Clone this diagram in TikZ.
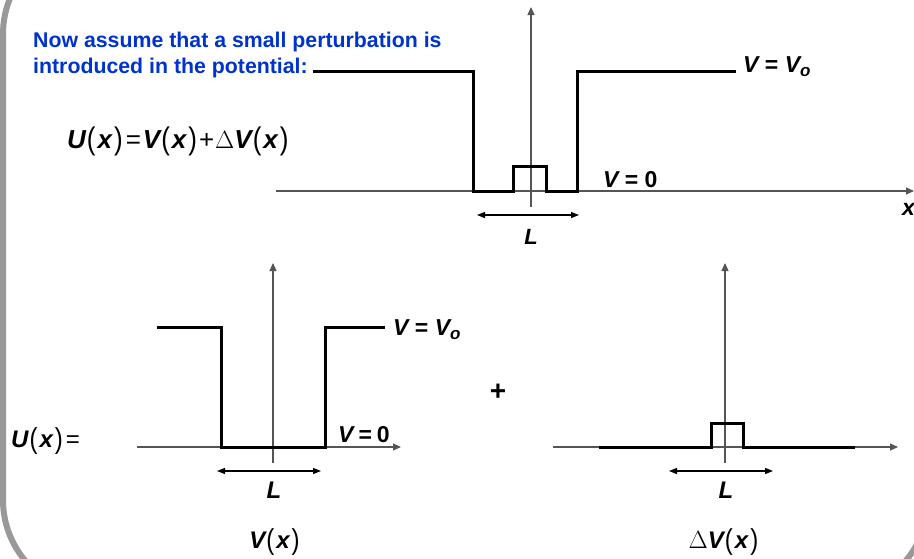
\documentclass[tikz,border=0pt]{standalone}
\usepackage{fontspec}
\usepackage{graphicx}
\setmainfont{Liberation Sans}
\usepackage{tikz}
\usetikzlibrary{arrows.meta, positioning}
\definecolor{titleblue}{HTML}{0033CC}
\definecolor{framegray}{HTML}{999999}
\definecolor{axisgray}{HTML}{555555}
\newcommand\vb[1]{{\bfseries\itshape #1}}
\newcommand\pa[1]{\kern1pt\raisebox{-0.12ex}{\scalebox{1}[1.2]{\mdseries\upshape(}}\kern2pt#1\kern2pt\raisebox{-0.12ex}{\scalebox{1}[1.2]{\mdseries\upshape)}}\kern1pt}
\newcommand\eqs{\kern2pt{\mdseries=}\kern2pt}
\newcommand\sub[1]{\raisebox{-0.35ex}{\fontsize{17}{17}\selectfont\bfseries\itshape #1}}

\begin{document}
\begin{tikzpicture}[
  x=1pt, y=-1pt,
  frame/.style={draw=framegray, line width=6pt, rounded corners=94pt},
  axis/.style={-{Triangle[length=8pt,width=7pt]}, draw=axisgray, line width=1.1pt},
  pot/.style={line width=3pt, line join=miter},
  span/.style={{Triangle[length=8pt,width=6pt]}-{Triangle[length=8pt,width=6pt]}, line width=1.2pt},
  lbl/.style={inner sep=0pt, font=\fontsize{23}{26}\selectfont\bfseries},
  big/.style={inner sep=0pt, font=\fontsize{24}{28}\selectfont\bfseries}
]
  \useasboundingbox (0,0) rectangle (914,558);
  \begin{scope}
    \clip (0,0) rectangle (914,558);
    \draw[frame] (3,-60) rectangle (928,594);
  \end{scope}

  % text
  \node[anchor=base west, inner sep=0pt, align=left, text=titleblue,
        font=\fontsize{21.3}{26}\selectfont\bfseries] (intro) at (33,73)
        {Now assume that a small perturbation is\\introduced in the potential:};
  \node[big, anchor=base west, font=\fontsize{26}{30}\selectfont\bfseries] (ueq) at (67,148)
        {\vb{U}\pa{\vb{x}}\eqs\vb{V}\pa{\vb{x}}\kern1pt{\mdseries+}\kern1pt{\upshape$\Delta$}\vb{V}\pa{\vb{x}}};

  % top plot
  \coordinate (t-l) at (276,191);
  \coordinate (t-r) at (914,191);
  \coordinate (t-b) at (531,207);
  \coordinate (t-t) at (531,7);
  \draw[axis] (t-l) -- (t-r);
  \draw[axis] (t-b) -- (t-t);
  \draw[pot] (313,71) -- (473,71) -- (473,191) -- (513,191) -- (513,166) -- (546,166)
    -- (546,191) -- (577,191) -- (577,71) -- (736,71);
  \node[lbl, anchor=base west] (t-vo) at (743,72) {\vb{V} = \vb{V}\sub{o}};
  \node[lbl, anchor=base west] (t-v0) at (603,187) {\vb{V} = 0};
  \node[lbl, anchor=base west] (t-x) at (902,215) {\vb{x}};
  \coordinate (t-sl) at (477,215);
  \coordinate (t-sr) at (579,215);
  \draw[span] (t-sl) -- (t-sr);
  \node[lbl, anchor=base, font=\fontsize{22}{24}\selectfont\bfseries\itshape] (t-L) at (531,244) {L};

  % bottom left plot
  \node[big, anchor=base west] (ux) at (11,447) {\vb{U}\pa{\vb{x}}\eqs};
  \coordinate (a-l) at (137,447);
  \coordinate (a-r) at (401,447);
  \coordinate (a-b) at (273,463);
  \coordinate (a-t) at (273,263);
  \draw[axis] (a-l) -- (a-r);
  \draw[axis] (a-b) -- (a-t);
  \draw[pot] (157,327) -- (221,327) -- (221,447) -- (325,447) -- (325,327) -- (385,327);
  \node[lbl, anchor=base west] (a-vo) at (393,335) {\vb{V} = \vb{V}\sub{o}};
  \node[lbl, anchor=base west] (a-v0) at (338,442) {\vb{V}\kern5pt=\kern5pt0};
  \coordinate (a-sl) at (217,471);
  \coordinate (a-sr) at (321,471);
  \draw[span] (a-sl) -- (a-sr);
  \node[big, anchor=base, font=\fontsize{24}{28}\selectfont\bfseries\itshape] (a-L) at (274,498) {L};
  \node[big, anchor=base] (a-name) at (275,548) {\vb{V}\pa{\vb{x}}};

  \node[big, font=\fontsize{28}{30}\selectfont\bfseries] (plus) at (498,392) {+};

  % bottom right plot
  \coordinate (b-l) at (553,447);
  \coordinate (b-r) at (898,447);
  \coordinate (b-b) at (725,463);
  \coordinate (b-t) at (725,263);
  \draw[axis] (b-l) -- (b-r);
  \draw[axis] (b-b) -- (b-t);
  \draw[pot] (599,447) -- (711,447) -- (711,423) -- (743,423) -- (743,447) -- (855,447);
  \coordinate (b-sl) at (669,471);
  \coordinate (b-sr) at (773,471);
  \draw[span] (b-sl) -- (b-sr);
  \node[big, anchor=base, font=\fontsize{24}{28}\selectfont\bfseries\itshape] (b-L) at (726,498) {L};
  \node[big, anchor=base] (b-name) at (724,548) {{\upshape$\Delta$}\vb{V}\pa{\vb{x}}};
\end{tikzpicture}
\end{document}
